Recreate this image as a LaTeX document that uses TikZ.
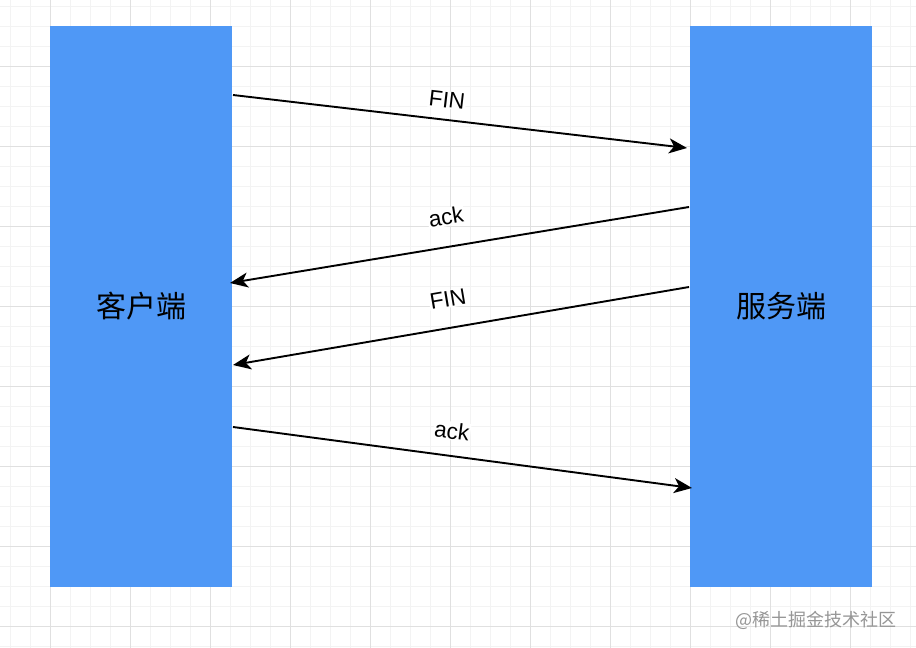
\documentclass[tikz,border=0pt]{standalone}
\usepackage{fontspec}
\setmainfont{Liberation Sans}
\newfontfamily\cjk{Noto Sans CJK SC}
\usetikzlibrary{arrows.meta}
\definecolor{boxblue}{RGB}{79,152,246}
\definecolor{gridminor}{RGB}{243,243,243}
\definecolor{gridmajor}{RGB}{224,224,224}
\definecolor{wmgray}{RGB}{150,150,150}
\begin{document}
\begin{tikzpicture}[x=1pt,y=-1pt,
  box/.style={draw=none,fill=boxblue,minimum width=182pt,minimum height=561pt,inner sep=0pt,
    font=\cjk\fontsize{30}{35}\selectfont,text=black},
  msg/.style={line width=1.9pt,-{Stealth[length=18pt,width=15pt,inset=5pt]}},
  lbl/.style={fill=white,inner sep=1pt,font=\fontsize{22.5}{26}\selectfont}]
\useasboundingbox (0,0) rectangle (916,648);
\fill[white] (0,0) rectangle (916,648);
\foreach \x in {10,30,...,910} \draw[gridminor,line width=1pt] (\x,0) -- (\x,648);
\foreach \y in {6,26,...,646} \draw[gridminor,line width=1pt] (0,\y) -- (916,\y);
\foreach \x in {50,130,...,910} \draw[gridmajor,line width=1pt] (\x,0) -- (\x,648);
\foreach \y in {66,146,...,646} \draw[gridmajor,line width=1pt] (0,\y) -- (916,\y);
\node[box] (client) at (141,306.5) {客户端};
\node[box] (server) at (781,306.5) {服务端};
\coordinate (c1) at (233,95);   \coordinate (s1) at (687,148);
\coordinate (s2) at (689,207);  \coordinate (c2) at (230,283);
\coordinate (s3) at (689,287);  \coordinate (c3) at (233,365);
\coordinate (c4) at (233,427);  \coordinate (s4) at (692,488);
\draw[msg] (c1) -- (s1);
\draw[msg] (s2) -- (c2);
\draw[msg] (s3) -- (c3);
\draw[msg] (c4) -- (s4);
\node[lbl,rotate=-6.7] (l1) at (447,100) {FIN};
\node[lbl,rotate=9.4] (l2) at (446,217) {ack};
\node[lbl,rotate=9.7] (l3) at (448,299) {FIN};
\node[lbl,rotate=-7.6] (l4) at (452,431) {ack};
\node[text=wmgray,font=\cjk\fontsize{18}{21}\selectfont,anchor=east,inner sep=0pt] (wm) at (897,620) {@稀土掘金技术社区};
\end{tikzpicture}
\end{document}
